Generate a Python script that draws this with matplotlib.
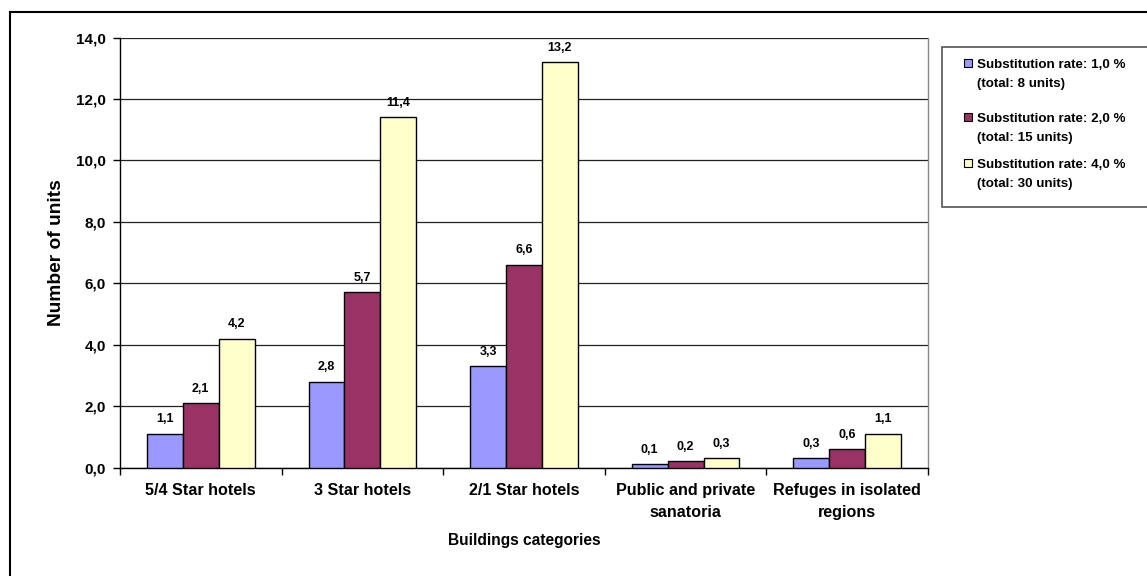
import matplotlib
matplotlib.use("Agg")
import matplotlib.pyplot as plt
from matplotlib.patches import Rectangle
from matplotlib.lines import Line2D
import numpy as np

categories = ["5/4 Star hotels", "3 Star hotels", "2/1 Star hotels",
              "Public and private\nsanatoria", "Refuges in isolated\nregions"]
rate_1 = [1.1, 2.8, 3.3, 0.1, 0.3]
rate_2 = [2.1, 5.7, 6.6, 0.2, 0.6]
rate_4 = [4.2, 11.4, 13.2, 0.3, 1.1]
series_labels = ["Substitution rate: 1,0 %\n(total: 8 units)",
                 "Substitution rate: 2,0 %\n(total: 15 units)",
                 "Substitution rate: 4,0 %\n(total: 30 units)"]
colors = ["#9999FF", "#993366", "#FFFFCC"]
yticks = [0, 2, 4, 6, 8, 10, 12, 14]

plt.rcParams["font.family"] = ["Liberation Sans", "DejaVu Sans"]
plt.rcParams["font.weight"] = "bold"

W, H = 1147, 576
fig = plt.figure(figsize=(W / 100, H / 100), dpi=100)
ax = fig.add_axes([120 / W, 1 - 467.5 / H, (928 - 120) / W, (467.5 - 37.5) / H])

x = np.arange(len(categories))
w = 1 / 4.5
for k, (vals, col) in enumerate(zip([rate_1, rate_2, rate_4], colors)):
    bars = ax.bar(x + (k - 1) * w, vals, width=w, color=col,
                  edgecolor="black", linewidth=1.0, zorder=3)
    for b, v in zip(bars, vals):
        ax.annotate(f"{v:.1f}".replace(".", ","),
                    (b.get_x() + b.get_width() / 2, v),
                    xytext=(0, 6), textcoords="offset points",
                    ha="center", va="bottom", fontsize=9, fontweight="bold")

ax.set_xlim(-0.5, len(categories) - 0.5)
ax.set_ylim(0, 14)
ax.set_yticks(yticks)
ax.set_yticklabels([f"{t:.1f}".replace(".", ",") for t in yticks],
                   fontsize=11, fontweight="bold")
ax.set_xticks(np.arange(len(categories) + 1) - 0.5)
ax.set_xticklabels([])
ax.set_xticks(x, minor=True)
ax.set_xticklabels(categories, minor=True, fontsize=11.6, fontweight="bold",
                   linespacing=1.6)
ax.tick_params(axis="x", which="minor", length=0, pad=11)
ax.tick_params(axis="x", which="major", length=5, width=1, direction="out")
ax.tick_params(axis="y", length=5, width=1, direction="out", pad=5)

ax.yaxis.grid(True, color="#222222", linewidth=0.9, zorder=0)
ax.set_axisbelow(True)
for side in ["left", "bottom"]:
    ax.spines[side].set_color("black")
    ax.spines[side].set_linewidth(1.0)
ax.spines["top"].set_visible(False)
ax.spines["right"].set_color("#888888")
ax.spines["right"].set_linewidth(1.0)

ax.set_ylabel("Number of units", fontsize=13.8, fontweight="bold", labelpad=8)
fig.text((120 + 928) / 2 / W, 1 - 541 / H, "Buildings categories",
         ha="center", va="center", fontsize=11.2, fontweight="bold")

# legend box drawn by hand
fig.patches.append(Rectangle((942 / W, 1 - 207 / H), (1160 - 942) / W, (207 - 46.5) / H,
                             transform=fig.transFigure, facecolor="white",
                             edgecolor="#555555", linewidth=1.2))
line_y = [63, 117, 163]
for label, col, yy in zip(series_labels, colors, line_y):
    fig.patches.append(Rectangle((963.5 / W, 1 - (yy + 4) / H), 8 / W, 8 / H,
                                 transform=fig.transFigure, facecolor=col,
                                 edgecolor="black", linewidth=0.8))
    fig.text(977 / W, 1 - (yy - 3.5) / H, label, ha="left", va="top",
             fontsize=9.6, fontweight="bold", linespacing=1.75)

# outer frame (left and top edges)
fig.add_artist(Line2D([9.5 / W, 9.5 / W], [0, 1 - 12 / H], transform=fig.transFigure,
                      color="black", linewidth=1.5))
fig.add_artist(Line2D([9.5 / W, 1], [1 - 12 / H, 1 - 12 / H], transform=fig.transFigure,
                      color="black", linewidth=1.5))

fig.savefig("out.png", dpi=100)
